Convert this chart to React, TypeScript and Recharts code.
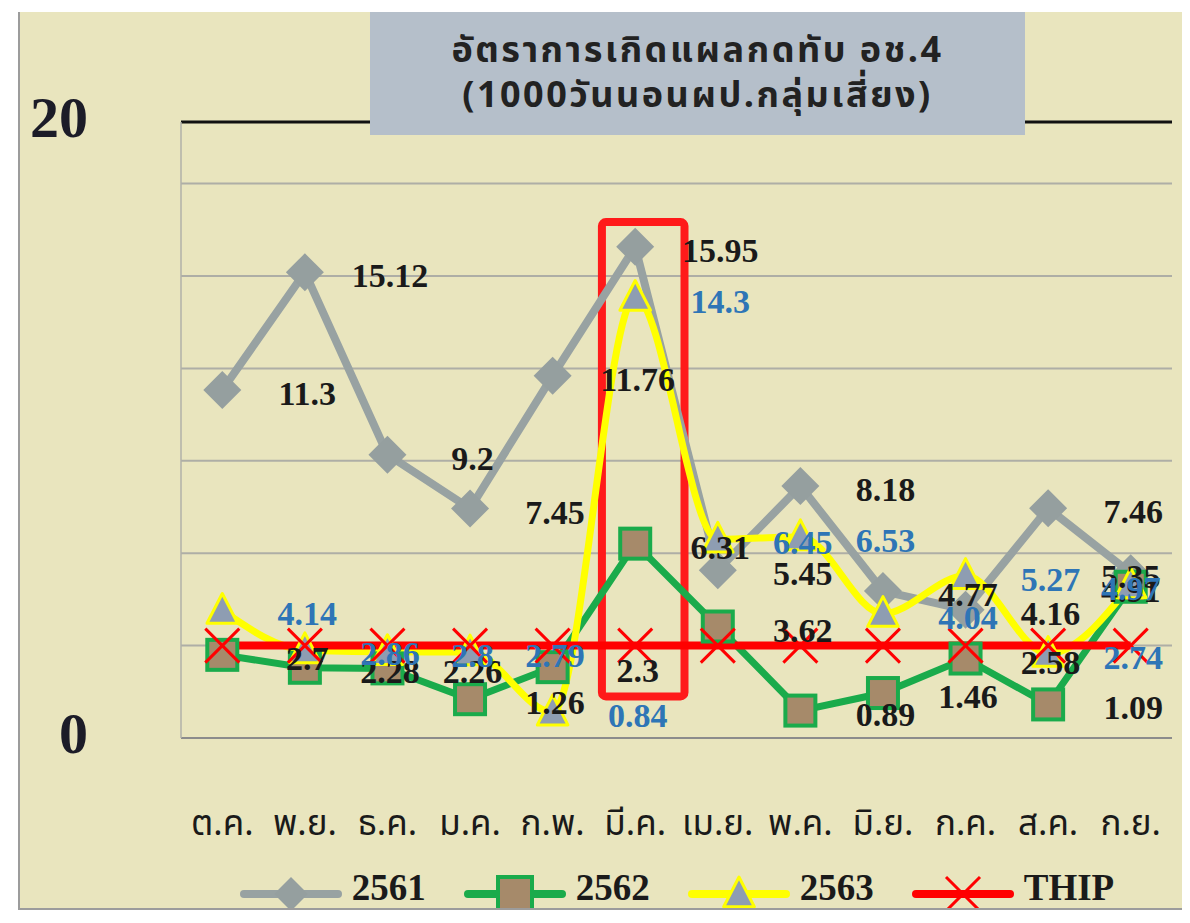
import React from "react";
import {
  CartesianGrid,
  LabelList,
  Legend,
  Line,
  LineChart,
  ReferenceArea,
  ReferenceLine,
  XAxis,
  YAxis,
} from "recharts";

const months = ["ต.ค.", "พ.ย.", "ธ.ค.", "ม.ค.", "ก.พ.", "มี.ค.", "เม.ย.", "พ.ค.", "มิ.ย.", "ก.ค.", "ส.ค.", "ก.ย."];
const rate2561 = [11.3, 15.12, 9.2, 7.45, 11.76, 15.95, 5.45, 8.18, 4.77, 4.16, 7.46, 5.35];
const rate2562 = [2.7, 2.28, 2.26, 1.26, 2.3, 6.31, 3.62, 0.89, 1.46, 2.58, 1.09, 4.91];
const rate2563 = [4.14, 2.86, 2.8, 2.79, 0.84, 14.3, 6.45, 6.53, 4.04, 5.27, 2.74, 4.97];
const thipTarget = [3, 3, 3, 3, 3, 3, 3, 3, 3, 3, 3, 3];
const yTicks = [0, 20];
const gridValues = [3, 6, 9, 12, 15, 18];
const highlightMonth = "มี.ค.";
const highlightLow = 1.35;
const highlightHigh = 16.75;
const titleLines = ["อัตราการเกิดแผลกดทับ อช.4", "(1000วันนอนผป.กลุ่มเสี่ยง)"];

const data = months.map((month, i) => ({
  month,
  y2561: rate2561[i],
  y2562: rate2562[i],
  y2563: rate2563[i],
  thip: thipTarget[i],
}));

const BG = "#e9e5be";
const GRAY = "#98a2a2";
const GREEN = "#1aab4b";
const YELLOW = "#ffff00";
const RED = "#ff0000";
const BLUE = "#2e75b6";
const INK = "#1a1a1a";
const SERIF = '"Liberation Serif", "Times New Roman", serif';
const THAI = '"Noto Sans Thai", "Noto Sans", "DejaVu Sans", sans-serif';

function Diamond({ cx, cy, size = 19 }: any) {
  if (cx == null || cy == null) return <g />;
  const s = size;
  return <polygon points={`${cx},${cy - s} ${cx + s},${cy} ${cx},${cy + s} ${cx - s},${cy}`} fill="#959f9f" />;
}

function Square({ cx, cy, size = 15 }: any) {
  if (cx == null || cy == null) return <g />;
  const s = size;
  return <rect x={cx - s} y={cy - s} width={s * 2} height={s * 2} fill="#a68a6a" stroke={GREEN} strokeWidth={4} />;
}

function Triangle({ cx, cy, size = 17 }: any) {
  if (cx == null || cy == null) return <g />;
  const s = size;
  return (
    <polygon
      points={`${cx},${cy - s} ${cx + s * 0.9},${cy + s * 0.75} ${cx - s * 0.9},${cy + s * 0.75}`}
      fill="#8e9db2"
      stroke={YELLOW}
      strokeWidth={3}
      strokeLinejoin="round"
    />
  );
}

function Cross({ cx, cy, size = 17 }: any) {
  if (cx == null || cy == null) return <g />;
  const s = size;
  return (
    <g stroke={RED} strokeWidth={3}>
      <line x1={cx - s} y1={cy - s} x2={cx + s} y2={cy + s} />
      <line x1={cx - s} y1={cy + s} x2={cx + s} y2={cy - s} />
    </g>
  );
}

const makeLabel = (color: string) => (props: any) => {
  const { x, y, value, index } = props;
  if (x == null || y == null) return null;
  // labels sit a step to the right of their point, except the last month
  const shift = index === months.length - 1 ? 0 : 85;
  return (
    <text x={x + shift} y={y + 15} textAnchor="middle" fontSize={34} fontWeight={700} fontFamily={SERIF} fill={color}>
      {value}
    </text>
  );
};

function MonthTick({ x, y, payload }: any) {
  return (
    <text x={x} y={y + 97} textAnchor="middle" fontSize={35} fill={INK} fontFamily={THAI}>
      {payload.value}
    </text>
  );
}

function ValueTick({ x, y, payload }: any) {
  return (
    <text x={x - 93} y={y + 15} textAnchor="end" fontSize={58} fontWeight={700} fontFamily={SERIF} fill="#1c1c28">
      {payload.value}
    </text>
  );
}

const legendItems = [
  { name: "2561", color: GRAY, Marker: Diamond },
  { name: "2562", color: GREEN, Marker: Square },
  { name: "2563", color: YELLOW, Marker: Triangle },
  { name: "THIP", color: RED, Marker: Cross },
];

function ChartLegend() {
  return (
    <div style={{ display: "flex", justifyContent: "center", gap: 37, height: 40 }}>
      {legendItems.map(({ name, color, Marker }) => (
        <div key={name} style={{ display: "flex", alignItems: "flex-start" }}>
          <svg width={104} height={40} style={{ overflow: "hidden" }}>
            <line x1={5} x2={99} y1={26} y2={26} stroke={color} strokeWidth={8} strokeLinecap="round" />
            <Marker cx={52} cy={26} size={17} />
          </svg>
          <span
            style={{
              marginLeft: 9,
              fontFamily: SERIF,
              fontWeight: 700,
              fontSize: 37,
              lineHeight: "40px",
              color: INK,
            }}
          >
            {name}
          </span>
        </div>
      ))}
    </div>
  );
}

export default function App() {
  return (
    <div
      style={{
        position: "relative",
        marginLeft: 10,
        marginTop: 4,
        width: 1164,
        height: 896,
        background: BG,
        borderLeft: "2px solid #9c9c9c",
        borderBottom: "2px solid #9c9c9c",
        borderRight: "1px solid #c9c9c0",
      }}
    >
      <LineChart width={1164} height={896} data={data} margin={{ top: 110, right: 12, bottom: 0, left: 0 }}>
        <CartesianGrid vertical={false} horizontalValues={gridValues} stroke="#aeaea6" strokeWidth={2} />
        <XAxis
          dataKey="month"
          scale="band"
          height={130}
          tickSize={0}
          tickMargin={0}
          tickLine={false}
          axisLine={{ stroke: "#8c8c8c", strokeWidth: 2 }}
          tick={<MonthTick />}
          interval={0}
        />
        <YAxis
          width={161}
          domain={[0, 20]}
          ticks={yTicks}
          tickSize={0}
          tickMargin={0}
          tickLine={false}
          axisLine={{ stroke: "#b0b0a8", strokeWidth: 1.5 }}
          tick={<ValueTick />}
        />
        <ReferenceLine y={20} stroke="#111" strokeWidth={3} />
        <Legend
          verticalAlign="bottom"
          height={40}
          wrapperStyle={{ left: 161, width: 991, bottom: 0 }}
          content={<ChartLegend />}
        />
        <Line dataKey="y2561" type="linear" stroke={GRAY} strokeWidth={8} dot={<Diamond />} activeDot={false} isAnimationActive={false} />
        <Line dataKey="y2562" type="linear" stroke={GREEN} strokeWidth={7} dot={<Square />} activeDot={false} isAnimationActive={false} />
        <Line dataKey="y2563" type="monotone" stroke={YELLOW} strokeWidth={7} dot={<Triangle />} activeDot={false} isAnimationActive={false} />
        <Line dataKey="thip" type="linear" stroke={RED} strokeWidth={8} dot={<Cross />} activeDot={false} isAnimationActive={false} />
        <ReferenceArea
          x1={highlightMonth}
          x2={highlightMonth}
          y1={highlightLow}
          y2={highlightHigh}
          ifOverflow="visible"
          fill="none"
          stroke="#ff1a1a"
          strokeWidth={8}
          shape={(p: any) => (
            <rect x={p.x + 8} y={p.y} width={p.width} height={p.height} rx={4} fill="none" stroke="#ff1a1a" strokeWidth={8} />
          )}
        />
        <Line dataKey="y2561" stroke="none" dot={false} activeDot={false} legendType="none" isAnimationActive={false}>
          <LabelList dataKey="y2561" content={makeLabel(INK)} />
        </Line>
        <Line dataKey="y2562" stroke="none" dot={false} activeDot={false} legendType="none" isAnimationActive={false}>
          <LabelList dataKey="y2562" content={makeLabel(INK)} />
        </Line>
        <Line dataKey="y2563" stroke="none" dot={false} activeDot={false} legendType="none" isAnimationActive={false}>
          <LabelList dataKey="y2563" content={makeLabel(BLUE)} />
        </Line>
      </LineChart>
      <div
        style={{
          position: "absolute",
          left: 350,
          top: 0,
          width: 655,
          height: 123,
          background: "#b5bfca",
          display: "flex",
          flexDirection: "column",
          alignItems: "center",
          justifyContent: "center",
          fontFamily: THAI,
          fontWeight: 700,
          fontSize: 36,
          letterSpacing: 2.5,
          lineHeight: "45px",
          color: "#222",
        }}
      >
        {titleLines.map((t) => (
          <div key={t}>{t}</div>
        ))}
      </div>
    </div>
  );
}
